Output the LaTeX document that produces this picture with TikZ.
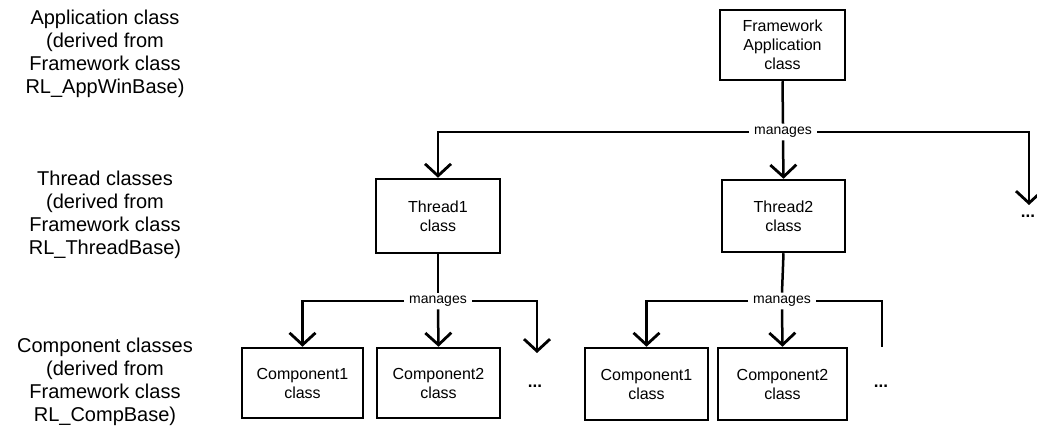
\documentclass[tikz,border=0pt]{standalone}
\usepackage{fontspec}
\setmainfont{Liberation Sans}
\usetikzlibrary{arrows.meta}
\tikzset{
  classbox/.style={draw, line width=2.5pt, align=center, inner sep=2pt,
    font=\fontsize{16}{19}\selectfont},
  tierlabel/.style={align=center, font=\fontsize{20}{23}\selectfont},
  rel/.style={inner xsep=5pt, inner ysep=3pt, font=\fontsize{14}{15}\selectfont},
  more/.style={inner sep=1pt, font=\bfseries\fontsize{17}{18}\selectfont},
  link/.style={line width=2.5pt},
  linkarrow/.style={line width=2.5pt, -{Straight Barb[length=12pt,width=26pt,line width=2.8pt]}},
}
\begin{document}
\begin{tikzpicture}[x=1pt,y=-1pt]
\useasboundingbox (0,0) rectangle (1037,435);

% tier descriptions on the left
\node[tierlabel] (lapp) at (105,54) {Application class\\(derived from\\Framework class\\RL\_AppWinBase)};
\node[tierlabel] (lthr) at (105,215) {Thread classes\\(derived from\\Framework class\\RL\_ThreadBase)};
\node[tierlabel] (lcmp) at (105,382) {Component classes\\(derived from\\Framework class\\RL\_CompBase)};

% class boxes
\node[classbox, minimum width=125pt, minimum height=70pt] (app) at (782.5,45) {Framework\\Application\\class};
\node[classbox, minimum width=124pt, minimum height=74pt] (t1) at (438,216) {Thread1\\class};
\node[classbox, minimum width=123pt, minimum height=72pt] (t2) at (783.5,216) {Thread2\\class};
\node[classbox, minimum width=121pt, minimum height=70pt] (c11) at (302.5,383) {Component1\\class};
\node[classbox, minimum width=123pt, minimum height=70pt] (c12) at (438.5,383) {Component2\\class};
\node[classbox, minimum width=123pt, minimum height=72pt] (c21) at (646.5,384) {Component1\\class};
\node[classbox, minimum width=129pt, minimum height=72pt] (c22) at (782.5,384) {Component2\\class};

% relation labels
\node[rel] (m1) at (783,132) {manages};
\node[rel] (m2) at (438,301) {manages};
\node[rel] (m3) at (782,301) {manages};

% further, unnamed members
\node[more] (d1) at (1028,216) {...};
\node[more] (d2) at (535,386) {...};
\node[more] (d3) at (881,386) {...};
\coordinate (e1) at (1029,205);
\coordinate (e2) at (537,353);
\coordinate (e3) at (882,347);

% application manages threads
\draw[link] (app.south) -- (m1.north);
\draw[linkarrow] (m1.south) -- (t2.north);
\draw[linkarrow] (m1.west) -| (t1.north);
\draw[linkarrow] (m1.east) -| (e1);

% thread 1 manages components
\draw[link] (t1.south) -- (m2.north);
\draw[linkarrow] (m2.south) -- (c12.north);
\draw[linkarrow] (m2.west) -| (c11.north);
\draw[linkarrow] (m2.east) -| (e2);

% thread 2 manages components
\draw[link] (t2.south) -- (m3.north);
\draw[linkarrow] (m3.south) -- (c22.north);
\draw[linkarrow] (m3.west) -| (c21.north);
\draw[link] (m3.east) -| (e3);
\end{tikzpicture}
\end{document}
